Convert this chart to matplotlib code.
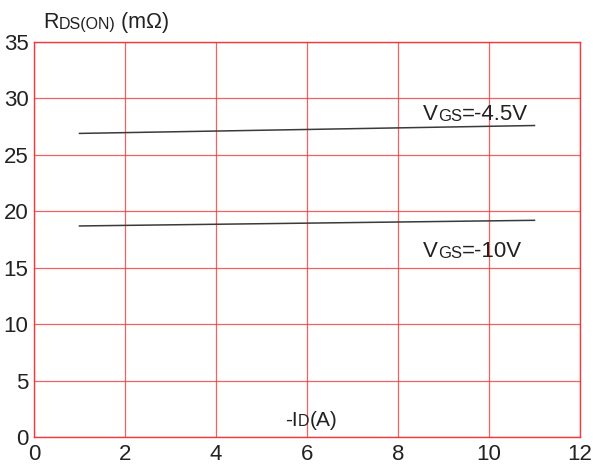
import numpy as np
import matplotlib.pyplot as plt

# data
id_a = [1, 11]
rds_45v = [26.9, 27.6]
rds_10v = [18.7, 19.2]

x_ticks = [0, 2, 4, 6, 8, 10, 12]
y_ticks = [0, 5, 10, 15, 20, 25, 30, 35]

red = "#ee3b3b"
txt = "#222222"

plt.rcParams["font.family"] = ["Liberation Sans", "DejaVu Sans"]

fig = plt.figure(figsize=(5.93, 4.70), dpi=100)
ax = fig.add_axes([34 / 593, 1 - 437 / 470, (580 - 34) / 593, (437 - 42) / 470])

ax.plot(id_a, rds_45v, color="#3a3a3a", lw=1.1)
ax.plot(id_a, rds_10v, color="#3a3a3a", lw=1.1)

ax.set_xlim(0, 12)
ax.set_ylim(0, 35)
ax.set_xticks(x_ticks)
ax.set_yticks(y_ticks)
ax.grid(True, color=red, lw=0.9, alpha=0.8)
ax.set_axisbelow(True)
for s in ax.spines.values():
    s.set_color(red)
    s.set_linewidth(1.0)
ax.tick_params(length=0, labelsize=16, colors=txt, pad=5)
ax.tick_params(axis="y", pad=4)


def mixed_text(x, y, parts, coords):
    # parts: list of (string, fontsize); pieces chained left to right,
    # small pieces kept on the same baseline (like the datasheet "subscripts")
    prev = None
    prev_fs = None
    for s, fs in parts:
        if prev is None:
            prev = ax.annotate(s, xy=(x, y), xycoords=coords, fontsize=fs,
                               color=txt, va="baseline", ha="left",
                               annotation_clip=False)
        else:
            dy = 0.21 * (prev_fs - fs)  # descent difference, in points
            prev = ax.annotate(s, xy=(1, 0), xycoords=prev, fontsize=fs,
                               xytext=(0, dy), textcoords="offset points",
                               color=txt, va="bottom", ha="left",
                               annotation_clip=False)
        prev_fs = fs
    return prev


mixed_text(8.55, 28.1, [("V", 16), ("GS", 12), ("=-4.5V", 16)], "data")
mixed_text(8.55, 15.95, [("V", 16), ("GS", 12), ("=-10V", 16)], "data")
mixed_text(5.52, 0.97, [("-I", 15), ("D", 11.5), ("(A)", 15)], "data")
mixed_text(0.0165, 1.035, [("R", 15.5), ("DS(ON)", 11.5), (" (m\u03a9)", 15.5)], "axes fraction")

fig.savefig("out.png", dpi=100, facecolor="white")
